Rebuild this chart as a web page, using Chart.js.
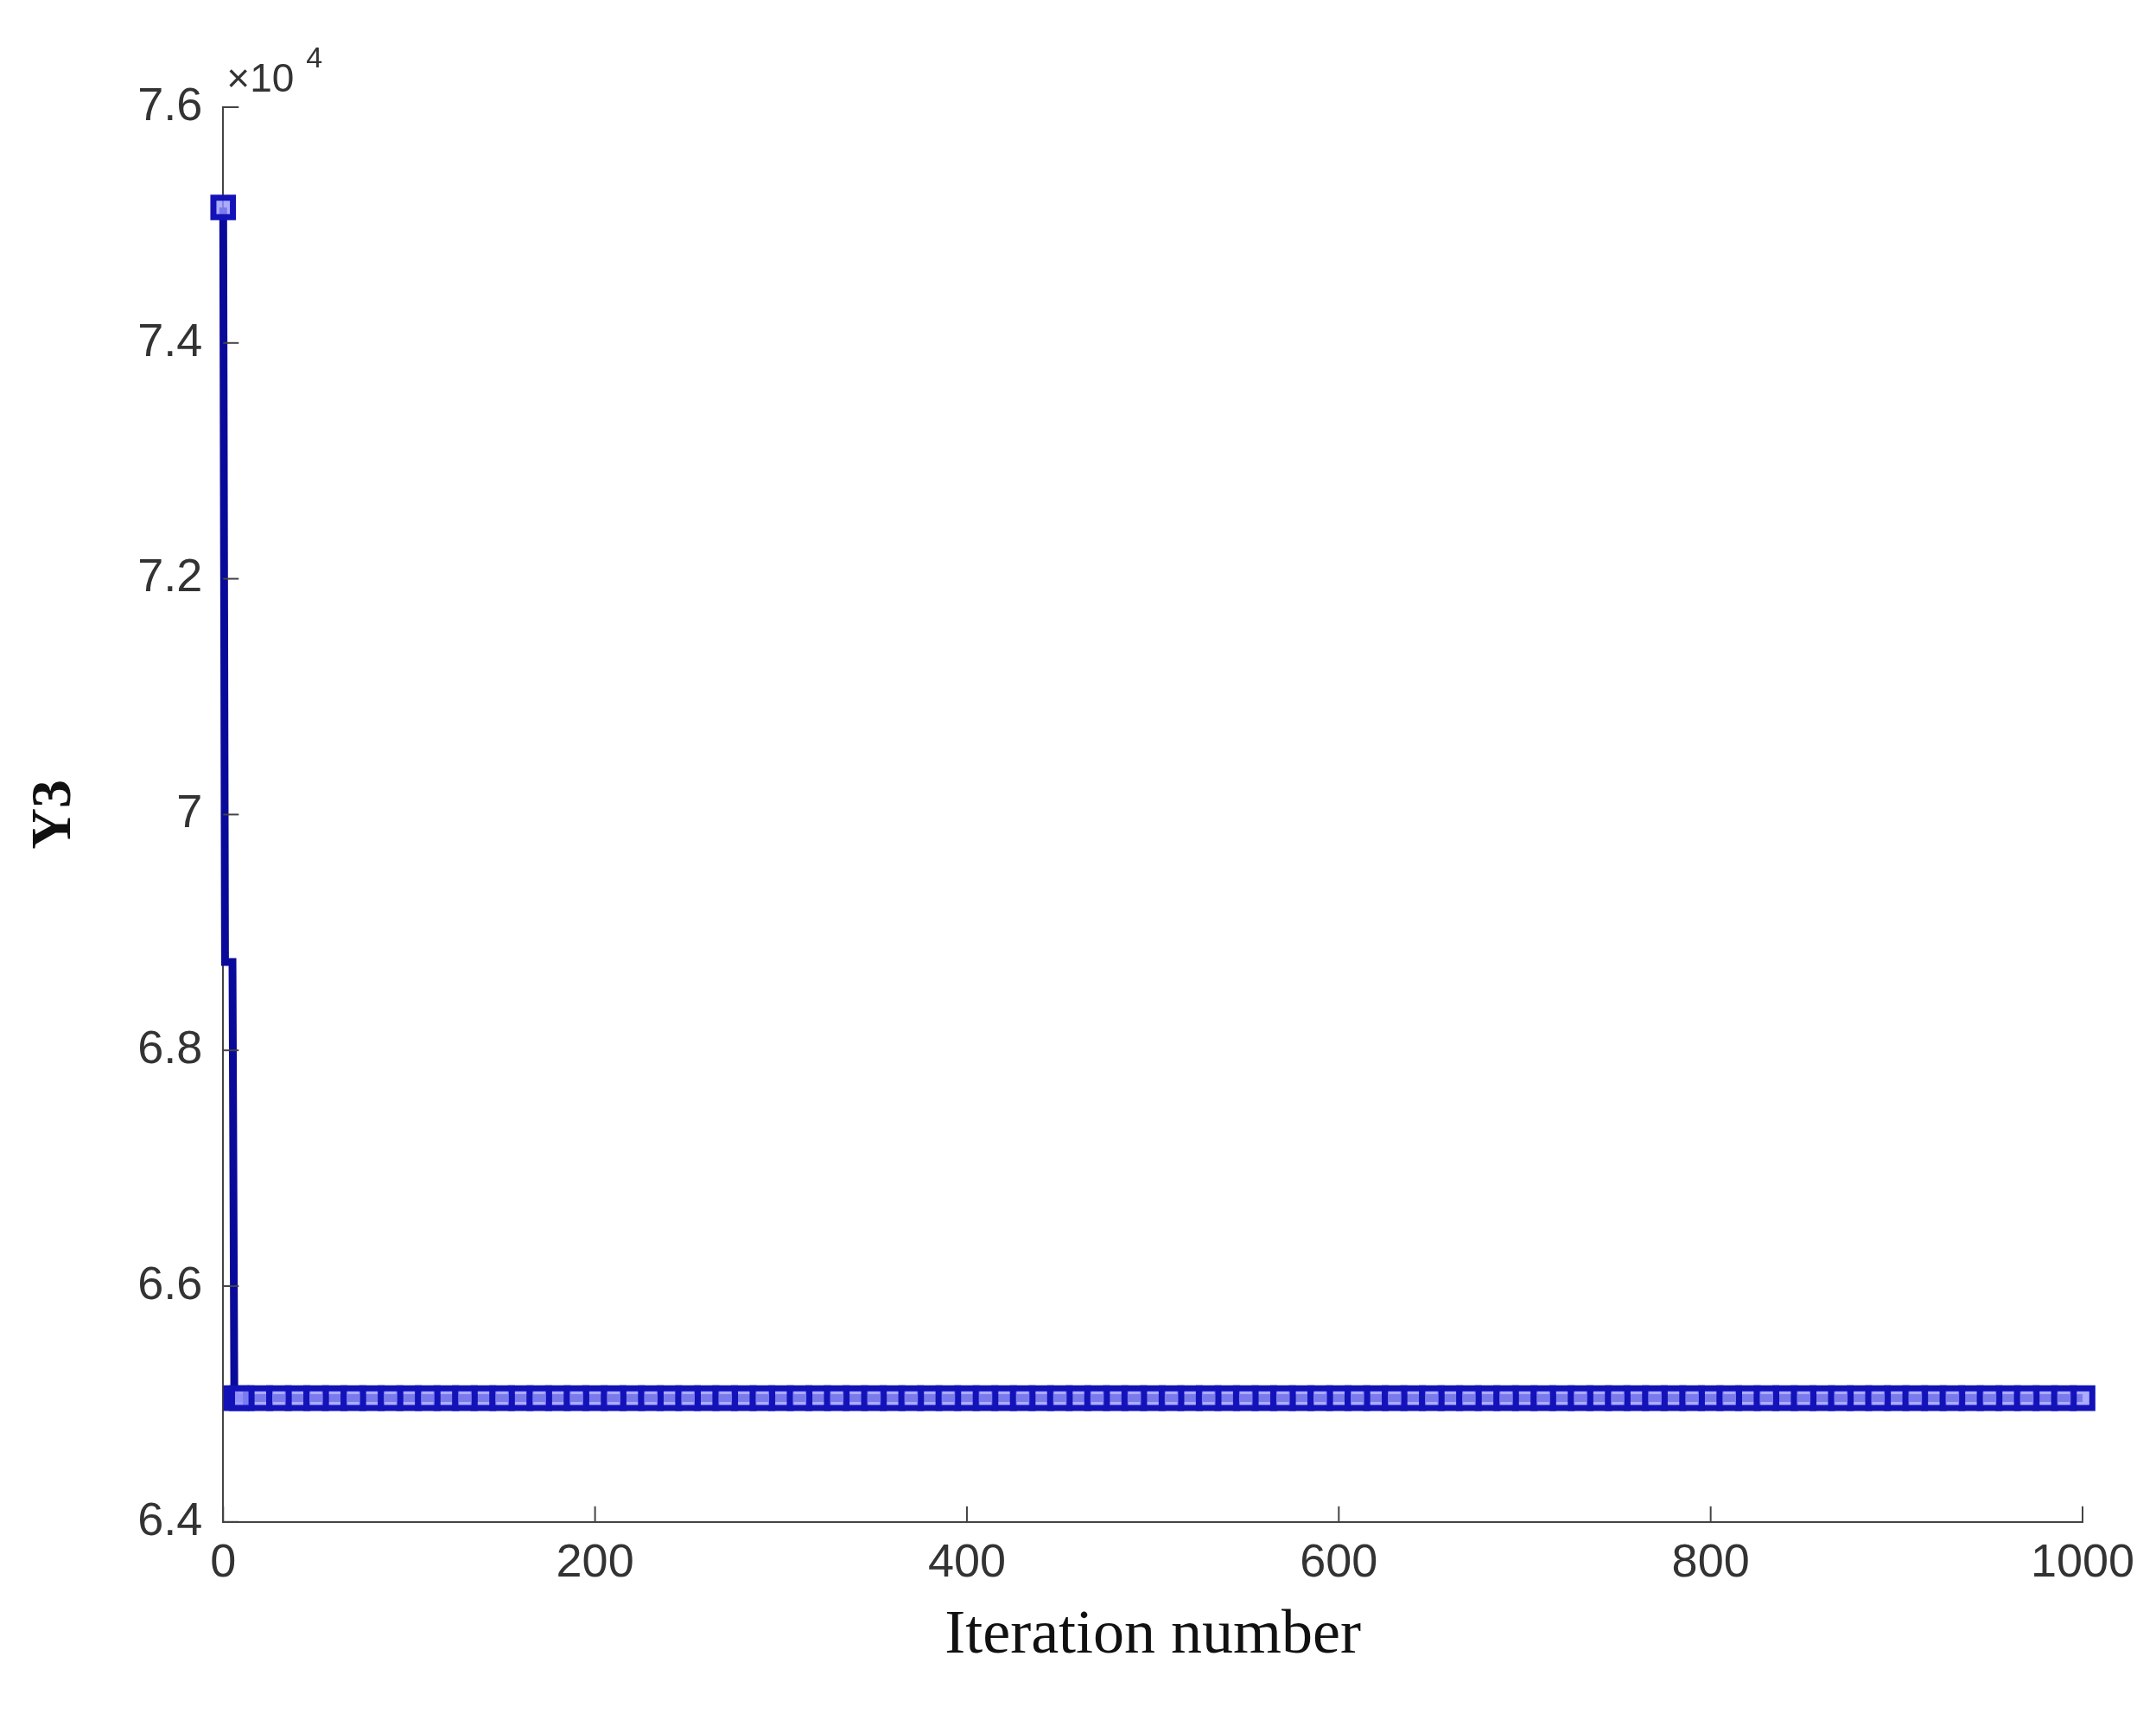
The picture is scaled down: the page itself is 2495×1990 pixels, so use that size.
<!DOCTYPE html>
<html><head><meta charset="utf-8">
<script src="https://cdn.jsdelivr.net/npm/chart.js@4/dist/chart.umd.min.js"></script>
<style>html,body{margin:0;padding:0;background:#fff}#w{width:2495px;height:1990px}</style>
</head><body><div id="w"><canvas id="c"></canvas></div>
<script>
// Y3 values in units of 1e4
const pathIters = [0, 1, 2, 4, 5, 6, 1000];
const pathY3 = [7.515, 6.875, 6.875, 6.875, 6.875, 6.505, 6.505];
const markerIters = [0,7,20,40,60,80,100,120,140,160,180,200,220,240,260,280,300,320,340,360,380,400,420,440,460,480,500,520,540,560,580,600,620,640,660,680,700,720,740,760,780,800,820,840,860,880,900,920,940,960,980,1000,
 10,30,50,70,90,110,130,150,170,190,210,230,250,270,290,310,330,350,370,390,410,430,450,470,490,510,530,550,570,590,610,630,650,670,690,710,730,750,770,790,810,830,850,870,890,910,930,950,970,990];
const markerY3 = [7.515].concat(Array(markerIters.length-1).fill(6.505));
const xTicks = [0,200,400,600,800,1000];

const expPlugin = {id:'exp', afterDraw(ch){
  const c=ch.ctx, a=ch.chartArea;
  c.save(); c.fillStyle='#333'; c.font='46px "Liberation Sans", Arial';
  c.textBaseline='alphabetic'; c.fillText('\u00d710',a.left+4,a.top-18);
  c.font='34px "Liberation Sans", Arial'; c.fillText('4',a.left+96,a.top-46);
  c.strokeStyle='#444'; c.lineWidth=2;
  const xs=ch.scales.x, ys=ch.scales.y;
  xTicks.forEach(v=>{const p=xs.getPixelForValue(v);c.beginPath();c.moveTo(p,a.bottom);c.lineTo(p,a.bottom-18);c.stroke();});
  [6.4,6.6,6.8,7,7.2,7.4,7.6].forEach(v=>{const p=ys.getPixelForValue(v);c.beginPath();c.moveTo(a.left,p);c.lineTo(a.left+18,p);c.stroke();});
  c.restore();
}};

new Chart(document.getElementById('c'),{
  type:'scatter',
  data:{datasets:[
    {data:pathIters.map((x,i)=>({x,y:pathY3[i]})),showLine:true,borderColor:'#0a0a9a',borderWidth:9,pointRadius:0,order:2,clip:false},
    {data:markerIters.map((x,i)=>({x,y:markerY3[i]})),showLine:false,pointStyle:'rect',pointRadius:16,borderWidth:7,borderColor:'#1212b8',backgroundColor:'rgba(150,150,255,0.8)',order:1,clip:false}
  ]},
  options:{responsive:true,maintainAspectRatio:false,animation:false,
    layout:{padding:{left:20,right:85,top:124,bottom:50}},
    plugins:{legend:{display:false},tooltip:{enabled:false}},
    scales:{
      x:{type:'linear',min:0,max:1000,grid:{display:false},border:{color:'#444',width:2},
        afterBuildTicks:s=>{s.ticks=xTicks.map(v=>({value:v}));},
        ticks:{color:'#333',font:{size:54,family:'"Liberation Sans", Arial'},padding:8,maxRotation:0,callback:v=>String(v)},
        title:{display:true,text:'Iteration number',color:'#111',font:{size:72,family:'"Liberation Serif", serif'},padding:{top:0}}},
      y:{min:6.4,max:7.6,grid:{display:false},border:{color:'#444',width:2},
        ticks:{stepSize:0.2,color:'#333',font:{size:54,family:'"Liberation Sans", Arial'},padding:16,callback:v=>String(Math.round(v*10)/10)},
        title:{display:true,text:'Y3',color:'#111',font:{size:66,family:'"Liberation Serif", serif',weight:'bold'},padding:{bottom:40}}}
    }},
  plugins:[expPlugin]
});
</script></body></html>
